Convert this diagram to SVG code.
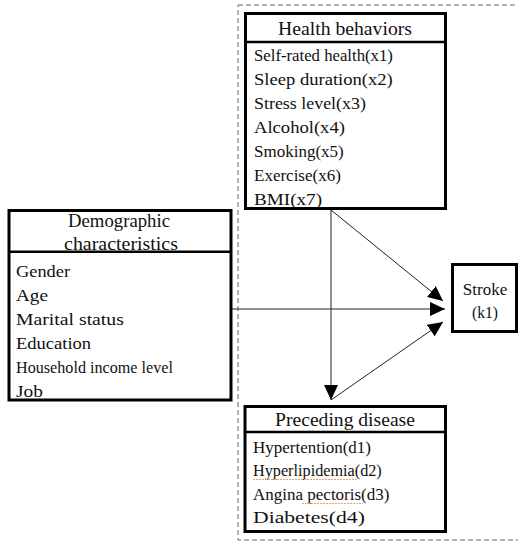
<svg xmlns="http://www.w3.org/2000/svg" width="518" height="541" viewBox="0 0 518 541">
<style>
.box{fill:#fff;stroke:#000;stroke-width:3}
.sep{stroke:#000;stroke-width:2.4}
.t{font-family:"Liberation Serif","Times New Roman",serif;font-size:17px;fill:#111}
.h{font-size:18.5px}
.c{text-anchor:middle}
.conn{stroke:#222;stroke-width:1;fill:none}
.spell{stroke:#eaa36a;stroke-width:1;stroke-dasharray:2,1;fill:none}
</style>
<defs>
<marker id="ah" markerUnits="userSpaceOnUse" markerWidth="16" markerHeight="14" refX="15" refY="7" orient="auto">
<path d="M0,0 L15,7 L0,14 z" fill="#000"/>
</marker>
</defs>
<rect x="238" y="5" width="290" height="535" fill="none" stroke="#666" stroke-width="1" stroke-dasharray="5,3"/>
<g id="connectors">
<line class="conn" x1="231" y1="309" x2="445" y2="309" marker-end="url(#ah)"/>
<line class="conn" x1="331" y1="210" x2="331" y2="400" marker-end="url(#ah)"/>
<line class="conn" x1="331" y1="210" x2="443" y2="301" marker-end="url(#ah)"/>
<line class="conn" x1="331" y1="400" x2="443" y2="322" marker-end="url(#ah)"/>
</g>
<g id="health">
<rect class="box" x="245.5" y="13.5" width="200" height="195"/>
<line class="sep" x1="245.5" y1="42" x2="445.5" y2="42"/>
<text class="t h c" transform="translate(345,35) scale(1.064,1)">Health behaviors</text>
<text class="t" transform="translate(254,61) scale(0.985,1)">Self-rated health(x1)</text>
<text class="t" transform="translate(254,85) scale(1.094,1)">Sleep duration(x2)</text>
<text class="t" transform="translate(254,109) scale(1.054,1)">Stress level(x3)</text>
<text class="t" transform="translate(254,133) scale(1.095,1)">Alcohol(x4)</text>
<text class="t" transform="translate(254,157)">Smoking(x5)</text>
<text class="t" transform="translate(254,181)">Exercise(x6)</text>
<text class="t" transform="translate(254,205) scale(1.126,1)">BMI(x7)</text>
</g>
<g id="demographic">
<rect class="box" x="9" y="210.5" width="222" height="189.5"/>
<line class="sep" x1="9" y1="251.7" x2="231" y2="251.7"/>
<text class="t h c" transform="translate(119,227) scale(1.013,1)">Demographic</text>
<text class="t h c" transform="translate(121,250) scale(1.077,1)">characteristics</text>
<text class="t" transform="translate(16,277) scale(1.08,1)">Gender</text>
<text class="t" transform="translate(16,301) scale(1.13,1)">Age</text>
<text class="t" transform="translate(16,325) scale(1.16,1)">Marital status</text>
<text class="t" transform="translate(16,349) scale(1.09,1)">Education</text>
<text class="t" transform="translate(16,373) scale(0.95,1)">Household income level</text>
<text class="t" transform="translate(16,397) scale(1.14,1)">Job</text>
</g>
<g id="stroke">
<rect class="box" x="452.5" y="264.5" width="64" height="67"/>
<text class="t c" transform="translate(485,295)">Stroke</text>
<text class="t c" transform="translate(485,318) scale(0.92,1)">(k1)</text>
</g>
<g id="preceding">
<rect class="box" x="245" y="406.5" width="200.5" height="125"/>
<line class="sep" x1="245" y1="432" x2="445.5" y2="432"/>
<text class="t h c" transform="translate(345,426) scale(1.06,1)">Preceding disease</text>
<text class="t" transform="translate(253,453)">Hypertention(d1)</text>
<text class="t" transform="translate(253,476) scale(0.954,1)">Hyperlipidemia(d2)</text>
<text class="t" transform="translate(253,500)">Angina pectoris(d3)</text>
<text class="t" transform="translate(253,523) scale(1.275,1)">Diabetes(d4)</text>
<line class="spell" x1="253" y1="479.5" x2="358" y2="479.5"/>
<line class="spell" x1="302" y1="503.5" x2="363" y2="503.5"/>
</g>
</svg>
